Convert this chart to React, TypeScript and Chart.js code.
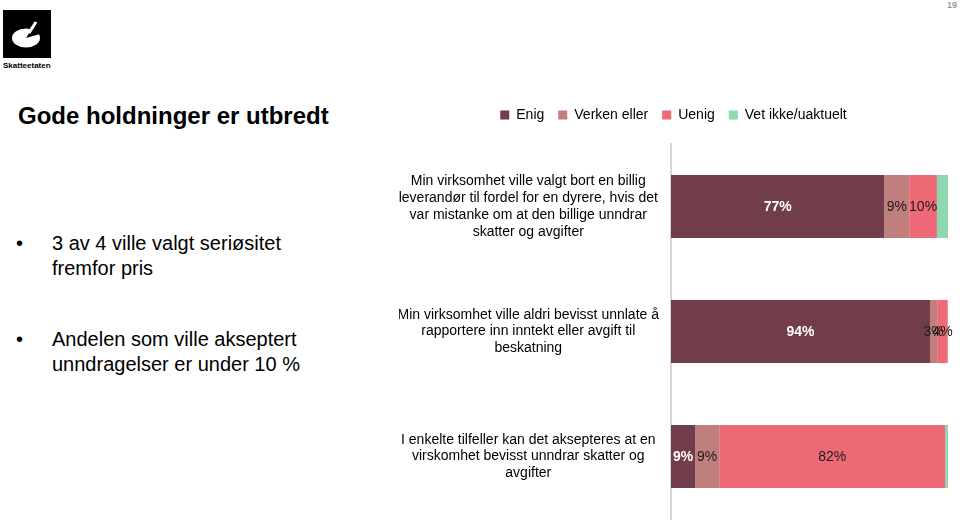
import React, { useEffect, useRef } from "react";
import { Chart, registerables } from "chart.js";

Chart.register(...registerables);

const categories: string[][] = [
  [
    "Min virksomhet ville valgt bort en billig",
    "leverandør til fordel for en dyrere, hvis det",
    "var mistanke om at den billige unndrar",
    "skatter og avgifter",
  ],
  [
    "Min virksomhet ville aldri bevisst unnlate å",
    "rapportere inn inntekt eller avgift til",
    "beskatning",
  ],
  [
    "I enkelte tilfeller kan det aksepteres at en",
    "virskomhet bevisst unndrar skatter og",
    "avgifter",
  ],
];

const seriesNames = ["Enig", "Verken eller", "Uenig", "Vet ikke/uaktuelt"];
const enig = [77, 93.5, 8.7];
const verken = [9, 2.6, 8.7];
const uenig = [10, 3.8, 81.6];
const vetIkke = [4, 0, 1];

const colors = ["#723D4A", "#C07E7D", "#EE6A76", "#8DD8B0"];
const showLabels = [true, true, true, false];

const FONT = "'Liberation Sans', Arial, Helvetica, sans-serif";

const legendSpacer = {
  id: "legendSpacer",
  beforeInit(chart: any) {
    if (!chart.legend) return;
    const originalFit = chart.legend.fit;
    chart.legend.fit = function fit() {
      originalFit.bind(chart.legend)();
      this.height += 12;
    };
  },
};

const barLabels = {
  id: "barLabels",
  afterDatasetsDraw(chart: any) {
    const ctx = chart.ctx;
    ctx.save();
    ctx.textAlign = "center";
    ctx.textBaseline = "middle";
    chart.data.datasets.forEach((ds: any, di: number) => {
      if (!showLabels[di]) return;
      const meta = chart.getDatasetMeta(di);
      meta.data.forEach((el: any, i: number) => {
        const v = ds.data[i];
        if (!v) return;
        const props = el.getProps(["x", "y", "base"], true);
        const cx = (props.x + props.base) / 2;
        if (di === 0) {
          ctx.fillStyle = "#FFFFFF";
          ctx.font = `bold 14px ${FONT}`;
        } else {
          ctx.fillStyle = "#1A1A1A";
          ctx.font = `14px ${FONT}`;
        }
        ctx.fillText(Math.round(v) + "%", cx, props.y + 1);
      });
    });
    ctx.restore();
  },
};

function ChartCanvas() {
  const ref = useRef<HTMLCanvasElement | null>(null);
  useEffect(() => {
    if (!ref.current) return;
    const values = [enig, verken, uenig, vetIkke];
    const chart = new Chart(ref.current, {
      type: "bar",
      data: {
        labels: categories,
        datasets: seriesNames.map((name, i) => ({
          label: name,
          data: values[i],
          backgroundColor: colors[i],
          borderWidth: 0,
          categoryPercentage: 1,
          barPercentage: 0.505,
        })),
      },
      options: {
        indexAxis: "y",
        animation: false,
        responsive: false,
        layout: { padding: { left: 29, right: 12, top: 0, bottom: 2 } },
        scales: {
          x: { stacked: true, min: 0, max: 100, display: false },
          y: {
            stacked: true,
            grid: { display: false, drawTicks: false },
            border: { display: true, color: "#D6D6D6", width: 2 },
            ticks: {
              crossAlign: "center",
              padding: 12,
              color: "#000000",
              font: { family: FONT, size: 14, lineHeight: 1.2 },
            },
            afterFit(scale: any) {
              scale.width = 272;
              scale.paddingTop = 0;
              scale.paddingBottom = 0;
            },
          },
        },
        plugins: {
          legend: {
            display: true,
            position: "top",
            labels: {
              boxWidth: 9,
              boxHeight: 9,
              padding: 14,
              color: "#000000",
              font: { family: FONT, size: 14 },
            },
          },
          tooltip: { enabled: false },
        },
      } as any,
      plugins: [legendSpacer, barLabels],
    });
    return () => chart.destroy();
  }, []);
  return (
    <canvas
      ref={ref}
      width={590}
      height={427}
      style={{ position: "absolute", left: 370, top: 94, width: 590, height: 427 }}
    />
  );
}

export default function App() {
  useEffect(() => {
    document.body.style.margin = "0";
  }, []);
  const bulletStyle: React.CSSProperties = {
    position: "absolute",
    left: 16,
    fontFamily: FONT,
    fontSize: 20,
    lineHeight: "25px",
    color: "#000",
    display: "flex",
  };
  return (
    <div
      style={{
        position: "fixed",
        left: 0,
        top: 0,
        width: 960,
        height: 521,
        background: "#FFFFFF",
        overflow: "hidden",
        fontFamily: FONT,
      }}
    >
      <svg width={60} height={75} style={{ position: "absolute", left: 0, top: 0 }}>
        <rect x={3} y={10} width={48} height={48} fill="#000" />
        <ellipse cx={26} cy={38} rx={14} ry={9.5} fill="#fff" />
        <path d="M26 38 L33 27 L40 34 Z" fill="#000" />
        <path d="M29 33 L36 22" stroke="#fff" strokeWidth={3} />
        <text x={3} y={68} fontSize={8} fontWeight="bold" fontFamily={FONT} fill="#000">
          Skatteetaten
        </text>
      </svg>
      <div
        style={{
          position: "absolute",
          left: 947,
          top: 0,
          fontSize: 9,
          color: "#9A9A9A",
          fontWeight: "bold",
        }}
      >
        19
      </div>
      <div
        style={{
          position: "absolute",
          left: 18,
          top: 102,
          fontSize: 24,
          lineHeight: "28px",
          fontWeight: "bold",
          color: "#000",
          whiteSpace: "nowrap",
        }}
      >
        Gode holdninger er utbredt
      </div>
      <div style={{ ...bulletStyle, top: 231 }}>
        <span style={{ width: 36 }}>•</span>
        <span>
          3 av 4 ville valgt seriøsitet
          <br />
          fremfor pris
        </span>
      </div>
      <div style={{ ...bulletStyle, top: 327 }}>
        <span style={{ width: 36 }}>•</span>
        <span>
          Andelen som ville akseptert
          <br />
          unndragelser er under 10 %
        </span>
      </div>
      <ChartCanvas />
    </div>
  );
}
